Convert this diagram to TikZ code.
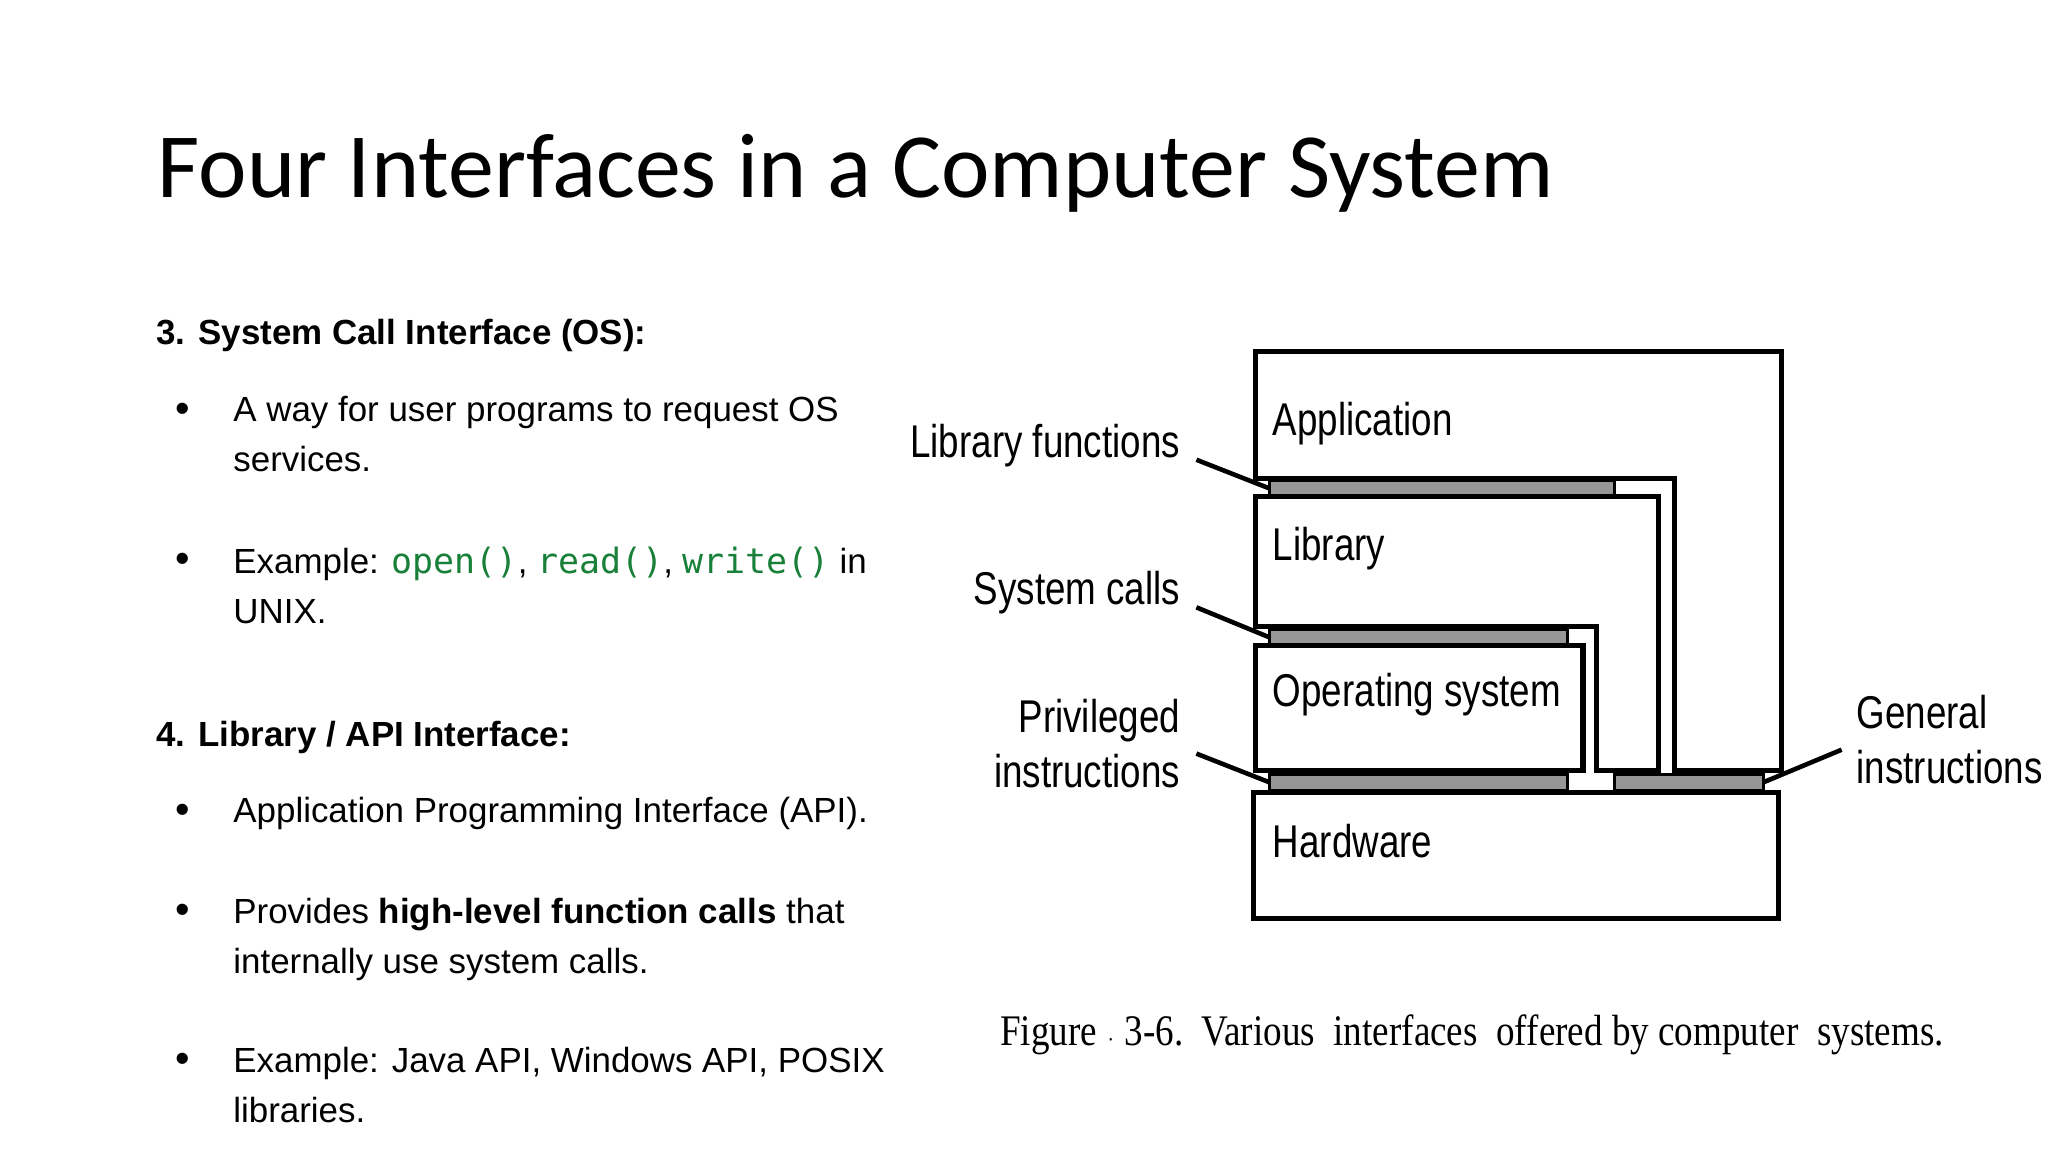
\documentclass[tikz,border=0pt]{standalone}
\usepackage{fontspec}
\setmainfont{Liberation Sans}
\newfontfamily\titlef{Carlito}
\newfontfamily\codef{DejaVu Sans Mono}
\newfontfamily\capf{Liberation Serif}
\definecolor{codegreen}{RGB}{24,128,56}
\definecolor{hatch}{RGB}{150,150,150}
\newcommand{\cd}[1]{{\codef\color{codegreen}#1}}
\begin{document}
\begin{tikzpicture}[x=0.01cm,y=-0.01cm,
  body/.style={anchor=west,inner sep=0pt,font=\fontsize{7.6pt}{10.8pt}\selectfont,align=left},
  head/.style={anchor=west,inner sep=0pt,font=\fontsize{7.6pt}{10pt}\selectfont\bfseries},
  bul/.style={anchor=center,font=\fontsize{9pt}{9pt}\selectfont},
  lay/.style={draw=black,line width=1.1pt,fill=white},
  strip/.style={draw=black,line width=0.6pt,fill=hatch},
  lbl/.style={font=\fontsize{10pt}{12pt}\selectfont,xscale=0.8,align=right,inner sep=0pt},
  inl/.style={anchor=west,inner sep=0pt,font=\fontsize{10pt}{12pt}\selectfont,xscale=0.8},
  lead/.style={line width=1pt}]
\useasboundingbox (0,0) rectangle (1568,882);
\node[anchor=west,inner sep=0pt,font=\titlef\fontsize{20pt}{22pt}\selectfont] (title) at (120,133) {Four Interfaces in a Computer System};
% left text
\node[head] (h3) at (119,257) {3. System Call Interface (OS):};
\node[bul] (b1) at (140,316) {•};
\node[body,anchor=north west] (t1) at (178,303) {A way for user programs to request OS\\services.};
\node[bul] (b2) at (140,431) {•};
\node[body,anchor=north west] (t2) at (178,418) {Example: \cd{open()}, \cd{read()}, \cd{write()} in\\UNIX.};
\node[head] (h4) at (119,565) {4. Library / API Interface:};
\node[bul] (b3) at (140,623) {•};
\node[body] (t3) at (178,623) {Application Programming Interface (API).};
\node[bul] (b4) at (140,700) {•};
\node[body,anchor=north west] (t4) at (178,687) {Provides \textbf{high-level function calls} that\\internally use system calls.};
\node[bul] (b5) at (140,814) {•};
\node[body,anchor=north west] (t5) at (178,801) {Example: Java API, Windows API, POSIX\\libraries.};
% figure
\draw[lay] (961,269) -- (1364,269) -- (1364,590) -- (1282,590) -- (1282,366) -- (961,366) -- cycle;
\draw[lay] (961,380) -- (1270,380) -- (1270,590) -- (1222,590) -- (1222,480) -- (961,480) -- cycle;
\draw[lay] (961,494) rectangle (1212,590);
\draw[lay] (960,607) rectangle (1362,703);
\draw[strip] (972,368) rectangle (1236,379);
\draw[strip] (972,482) rectangle (1200,493);
\draw[strip] (972,593) rectangle (1200,605);
\draw[strip] (1236,593) rectangle (1350,605);
\coordinate (s1) at (972,374);
\coordinate (s2) at (972,488);
\coordinate (s3) at (972,599);
\coordinate (s4) at (1350,599);
\node[inl] (app) at (974,324) {Application};
\node[inl] (lib) at (974,420) {Library};
\node[inl] (os) at (974,532) {Operating system};
\node[inl] (hw) at (974,644) {Hardware};
\node[lbl,anchor=east] (lf) at (904,341) {Library functions};
\node[lbl,anchor=east] (sc) at (904,454) {System calls};
\node[lbl,anchor=east] (pi) at (904,569) {Privileged\\instructions};
\node[lbl,anchor=west,align=left] (gi) at (1421,566) {General\\instructions};
\draw[lead] (916,352) -- (s1);
\draw[lead] (916,465) -- (s2);
\draw[lead] (916,577) -- (s3);
\draw[lead] (1410,574) -- (s4);
\node[font=\capf\fontsize{9.5pt}{11pt}\selectfont,xscale=0.85] (cap) at (1127,792) {Figure {\tiny$\cdot$} 3-6.\ \ Various\ \ interfaces\ \ offered\ by\ computer\ \ systems.};
\end{tikzpicture}
\end{document}
